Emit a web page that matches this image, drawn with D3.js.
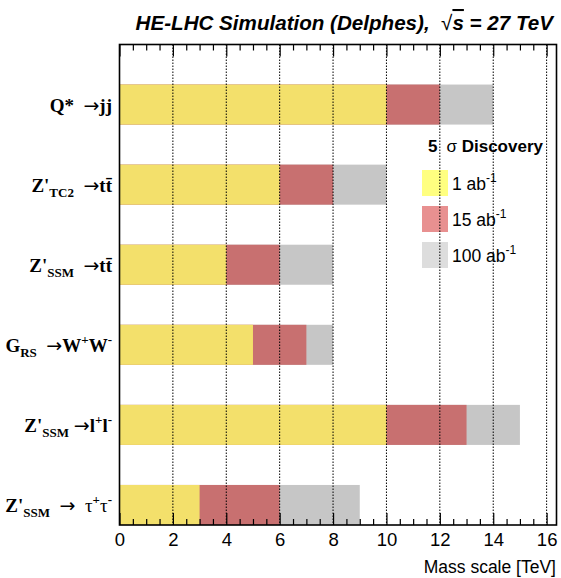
<!DOCTYPE html>
<html><head><meta charset="utf-8">
<script src="https://cdn.jsdelivr.net/npm/d3@7"></script>
<style>body{margin:0;background:#fff}svg{display:block}</style>
</head><body>
<script>
// ---- data ----
const categories = ["Qjj", "ZTC2tt", "ZSSMtt", "GRSWW", "ZSSMll", "ZSSMtautau"];
const lumi1 = [10, 6, 4, 5, 10, 3];      // 1 ab^-1
const lumi15 = [12, 8, 6, 7, 13, 6];     // 15 ab^-1
const lumi100 = [14, 10, 8, 8, 15, 9];   // 100 ab^-1
const xTicks = [0, 2, 4, 6, 8, 10, 12, 14, 16];
const legendLabels = ["1 ab", "15 ab", "100 ab"];
// label parts: [text, style] ; style: n normal, sub, sup, sym (non-bold symbol), arr (arrow)
const labelParts = [
  [["Q*  ","n"],["\u2192","arr"],["jj","n"]],
  [["Z'","n"],["TC2","sub"],["  ","n"],["\u2192","arr"],["tt\u0304","n"]],
  [["Z'","n"],["SSM","sub"],["  ","n"],["\u2192","arr"],["tt\u0304","n"]],
  [["G","n"],["RS","sub"],["  ","n"],["\u2192","arr"],["W","n"],["+","sup"],["W","n"],["-","sup"]],
  [["Z'","n"],["SSM","sub"],[" ","n"],["\u2192","arr"],["l","n"],["+","sup"],["l","n"],["-","sup"]],
  [["Z'","n"],["SSM","sub"],["  ","n"],["\u2192","arr"],["  ","n"],["\u03c4","sym"],["+","sup"],["\u03c4","sym"],["-","sup"]]
];

const W = 561, H = 578;
const L = 119.5, R = 556.5, T = 44.5, B = 525;
const svg = d3.select("body").append("svg").attr("width", W).attr("height", H);

const x = d3.scaleLinear().domain([0, 16.37]).range([L, R]);
const y = d3.scaleBand().domain(categories).range([T, B]).paddingInner(0).paddingOuter(0);
const bw = y.bandwidth();

const colBar = ["#f3e06b", "#c87070", "#c6c6c6"];
const colLeg = ["#ffff80", "#e89090", "#dddddd"];

// bars: draw 100, then 15, then 1 on top
const series = [lumi100, lumi15, lumi1];
const sCol = [colBar[2], colBar[1], colBar[0]];
series.forEach((vals, si) => {
  svg.append("g").selectAll("rect").data(categories).join("rect")
    .attr("x", x(0))
    .attr("y", c => y(c) + bw / 2)
    .attr("width", (c, i) => x(vals[i]) - x(0))
    .attr("height", bw / 2)
    .attr("fill", sCol[si]);
});

// legend
const lg = svg.append("g");
lg.append("text").attr("x", 428).attr("y", 152)
  .attr("font-family", "Liberation Sans, Arial, sans-serif").attr("font-size", 17).attr("font-weight", "bold")
  .call(t => {
    t.append("tspan").text("5");
    t.append("tspan").attr("dx", 9).attr("font-weight", "normal").text("\u03c3");
    t.append("tspan").text(" Discovery").style("white-space", "pre");
  });
const legY = [170, 206, 242];
legendLabels.forEach((lab, i) => {
  lg.append("rect").attr("x", 422).attr("y", legY[i]).attr("width", 26).attr("height", 26).attr("fill", colLeg[i]);
  const t = lg.append("text").attr("x", 452).attr("y", legY[i] + 20)
    .attr("font-family", "Liberation Sans, Arial, sans-serif").attr("font-size", 17.5);
  t.append("tspan").text(lab);
  t.append("tspan").attr("font-size", 12).attr("dy", -8).text("-1");
});

// grid (on top)
svg.append("g").selectAll("line").data(xTicks.filter(d => d > 0)).join("line")
  .attr("x1", d => x(d)).attr("x2", d => x(d)).attr("y1", T).attr("y2", B)
  .attr("stroke", "#000").attr("stroke-width", 1).attr("stroke-dasharray", "1.5,1.5");

// axes
const minor = d3.range(0, 16.4, 0.5).filter(v => v % 2 !== 0);
const gb = svg.append("g").attr("transform", `translate(0,${B})`)
  .call(d3.axisBottom(x).tickValues(xTicks).tickFormat(d3.format("d")).tickSizeInner(-12).tickSizeOuter(0).tickPadding(8));
gb.select(".domain").remove();
gb.selectAll("text").attr("font-family", "Liberation Sans, Arial, sans-serif").attr("font-size", 18.5).attr("fill", "#000");
const gbm = svg.append("g").attr("transform", `translate(0,${B})`)
  .call(d3.axisBottom(x).tickValues(minor).tickFormat("").tickSizeInner(-6).tickSizeOuter(0));
gbm.select(".domain").remove();
const gt = svg.append("g").attr("transform", `translate(0,${T})`)
  .call(d3.axisTop(x).tickValues(xTicks).tickFormat("").tickSizeInner(-12).tickSizeOuter(0));
gt.select(".domain").remove();
const gtm = svg.append("g").attr("transform", `translate(0,${T})`)
  .call(d3.axisTop(x).tickValues(minor).tickFormat("").tickSizeInner(-6).tickSizeOuter(0));
gtm.select(".domain").remove();
svg.selectAll(".tick line").attr("stroke", "#000").attr("stroke-width", 1.2);

// frame
svg.append("rect").attr("x", L).attr("y", T).attr("width", R - L).attr("height", B - T)
  .attr("fill", "none").attr("stroke", "#000").attr("stroke-width", 1.6);

// y labels
categories.forEach((c, i) => {
  const t = svg.append("text").attr("x", 112).attr("y", y(c) + bw * 0.75 + 7)
    .attr("text-anchor", "end").attr("font-family", "Liberation Serif, Times New Roman, serif")
    .attr("font-size", 19).attr("font-weight", "bold");
  let shift = 0;
  labelParts[i].forEach(([txt, st]) => {
    const ts = t.append("tspan").text(txt).style("white-space", "pre");
    let target = 0;
    if (st === "sub") { ts.attr("font-size", 13); target = 5; }
    else if (st === "sup") { ts.attr("font-size", 13); target = -8; }
    else if (st === "sym") { ts.attr("font-weight", "normal"); }
    else if (st === "arr") { ts.attr("font-family", "DejaVu Sans, sans-serif").attr("font-weight", "normal").attr("font-size", 19); }
    if (target !== shift) { ts.attr("dy", target - shift); shift = target; }
  });
});

// axis title
svg.append("text").attr("x", 556).attr("y", 573).attr("text-anchor", "end")
  .attr("font-family", "Liberation Sans, Arial, sans-serif").attr("font-size", 17.5).text("Mass scale [TeV]");

// title
const tt = svg.append("text").attr("x", 553).attr("y", 30).attr("text-anchor", "end")
  .attr("font-family", "Liberation Sans, Arial, sans-serif").attr("font-size", 20.6)
  .attr("font-weight", "bold").attr("font-style", "italic");
tt.append("tspan").text("HE-LHC Simulation (Delphes),  ").style("white-space", "pre");
tt.append("tspan").attr("font-style", "normal").attr("font-weight", "normal").text("\u221a");
tt.append("tspan").attr("text-decoration", "overline").text("s");
tt.append("tspan").text(" = 27 TeV").style("white-space", "pre");
</script>
</body></html>
